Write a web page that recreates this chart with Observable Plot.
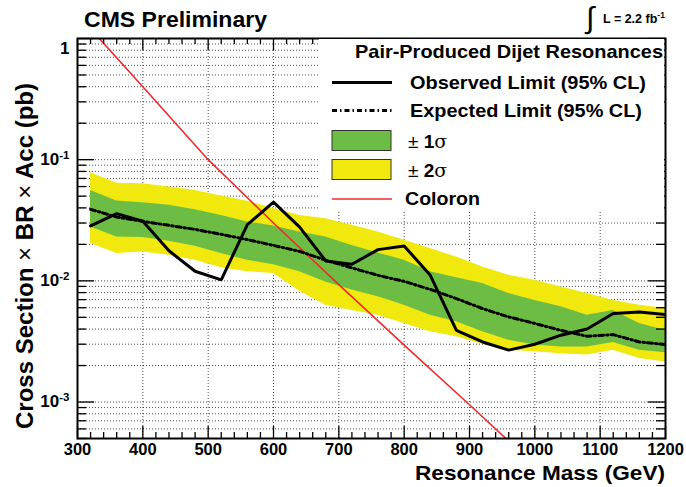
<!DOCTYPE html>
<html><head><meta charset="utf-8">
<script src="https://cdn.jsdelivr.net/npm/d3@7"></script>
<script src="https://cdn.jsdelivr.net/npm/@observablehq/plot@0.6"></script>
<style>
body{margin:0;background:#fff;}
#chart{width:686px;height:487px;position:relative;}
svg text{font-family:"Liberation Sans",Arial,Helvetica,sans-serif;}
</style></head><body><div id="chart"></div>
<script>
// ---- data ----
const mass = [320,360,400,440,480,520,560,600,640,680,720,760,800,840,880,920,960,1000,1040,1080,1120,1160,1200];
const observed = [0.0284,0.0359,0.031,0.0177,0.012,0.0102,0.0291,0.0447,0.0278,0.0146,0.0137,0.0181,0.0194,0.0111,0.0039,0.00313,0.00268,0.0030,0.00356,0.0040,0.00537,0.00554,0.00527];
const expected = [0.0389,0.0336,0.031,0.0287,0.0266,0.0242,0.0219,0.0196,0.0175,0.0148,0.0128,0.0111,0.0099,0.0085,0.00714,0.0059,0.00504,0.00445,0.0039,0.00349,0.0036,0.00313,0.00298];
const oneSigmaHigh = [0.0558,0.0456,0.0442,0.042,0.0387,0.0347,0.0306,0.0283,0.0253,0.023,0.0196,0.017,0.0148,0.0119,0.0106,0.0095,0.00785,0.0069,0.0061,0.0052,0.0057,0.00445,0.0039];
const oneSigmaLow = [0.0278,0.023,0.0228,0.0212,0.0193,0.0168,0.0148,0.0136,0.0119,0.0098,0.0084,0.0074,0.0063,0.0052,0.0046,0.0038,0.00324,0.00295,0.00285,0.00285,0.0031,0.00268,0.00255];
const twoSigmaHigh = [0.078,0.064,0.0633,0.0594,0.0558,0.0501,0.0453,0.0395,0.0347,0.0326,0.0287,0.0253,0.0216,0.0185,0.0157,0.013,0.0111,0.0101,0.0089,0.00785,0.0069,0.0063,0.0059];
const twoSigmaLow = [0.0203,0.0168,0.0173,0.0163,0.0148,0.0128,0.0119,0.0115,0.0082,0.0063,0.0057,0.0052,0.00445,0.0038,0.00345,0.0030,0.00268,0.0026,0.0025,0.00244,0.00268,0.00229,0.00214];
const coloronMass = [300,400,500,600,700,800,900,1000];
const coloronXsec = [1.58,0.40,0.10,0.030,0.0093,0.00295,0.00095,0.0003];

const xTickValues = [300,400,500,600,700,800,900,1000,1100,1200];
const yTickValues = [1,0.1,0.01,0.001];
const yTickLabels = ["1","10^-1","10^-2","10^-3"];

const legendLabels = ["Observed Limit (95% CL)","Expected Limit (95% CL)","\u00b1 1","\u00b1 2","Coloron"];

// ---- layout ----
const W=686,H=487,mL=77,mR=21,mT=38,mB=49;
const fw=W-mL-mR, fh=H-mT-mB;
const YELLOW="#f1e80e", GREEN="#6dbd45", RED="#ee2b2b";
const DASHDOT="5,3,1.5,3";

const rows = mass.map((m,i)=>({m,obs:observed[i],exp:expected[i],g1:oneSigmaLow[i],g2:oneSigmaHigh[i],y1:twoSigmaLow[i],y2:twoSigmaHigh[i]}));
const coloronRows = coloronMass.map((m,i)=>({m,v:coloronXsec[i]}));

const yMinor=[];
for(let e=-4;e<=0;e++)for(let k=2;k<=9;k++){const v=+(k*Math.pow(10,e)).toPrecision(3);if(v>=5e-4&&v<1)yMinor.push(v);}
const yAll = yTickValues.concat(yMinor);
const xMinor=[];
for(let v=300;v<=1200;v+=20) if(v%100!==0) xMinor.push(v);
const xInner = xTickValues.slice(1,-1);

const grid = {stroke:"#000",strokeDasharray:"1,2",strokeWidth:1,strokeOpacity:0.7};

const chart = Plot.plot({
  width:W,height:H,marginLeft:mL,marginRight:mR,marginTop:mT,marginBottom:mB,
  style:{fontFamily:"Liberation Sans, Arial, sans-serif",fontSize:"17px",background:"#fff"},
  x:{domain:[300,1200]},
  y:{type:"log",domain:[5e-4,1]},
  marks:[
    Plot.ruleY(yAll,{...grid}),
    Plot.ruleX(xInner,{...grid}),
    Plot.areaY(rows,{x:"m",y1:"y1",y2:"y2",fill:YELLOW,clip:true}),
    Plot.areaY(rows,{x:"m",y1:"g1",y2:"g2",fill:GREEN,clip:true}),
    Plot.line(coloronRows,{x:"m",y:"v",stroke:RED,strokeWidth:1.6,clip:true}),
    Plot.line(rows,{x:"m",y:"exp",stroke:"#000",strokeWidth:3,strokeDasharray:DASHDOT,clip:true}),
    Plot.line(rows,{x:"m",y:"obs",stroke:"#000",strokeWidth:3,strokeLinejoin:"miter",clip:true}),
    // inner ticks
    Plot.ruleY(yTickValues,{insetRight:fw-17,stroke:"#000",strokeWidth:1.3}),
    Plot.ruleY(yMinor,{insetRight:fw-9,stroke:"#000",strokeWidth:1.3}),
    Plot.ruleY(yTickValues,{insetLeft:fw-17,stroke:"#000",strokeWidth:1.3}),
    Plot.ruleY(yMinor,{insetLeft:fw-9,stroke:"#000",strokeWidth:1.3}),
    Plot.ruleX(xTickValues,{insetTop:fh-12,stroke:"#000",strokeWidth:1.3}),
    Plot.ruleX(xMinor,{insetTop:fh-6,stroke:"#000",strokeWidth:1.3}),
    Plot.ruleX(xTickValues,{insetBottom:fh-12,stroke:"#000",strokeWidth:1.3}),
    Plot.ruleX(xMinor,{insetBottom:fh-6,stroke:"#000",strokeWidth:1.3}),
    Plot.frame({stroke:"#000",strokeWidth:2}),
    Plot.axisX(xTickValues,{tickSize:0,tickPadding:5,fontSize:16.5,fontWeight:"bold",label:null,tickFormat:d=>String(d)}),
    Plot.axisY(yTickValues,{tickSize:0,tickPadding:8,fontSize:17,fontWeight:"bold",label:null,tickFormat:(d)=>yTickLabels[yTickValues.indexOf(d)]})
  ]
});
document.getElementById("chart").appendChild(chart);
const svg = d3.select(chart);

// superscripts on y tick labels
svg.selectAll('g[aria-label="y-axis tick label"] text').each(function(){
  const t=d3.select(this); const s=t.text();
  if(s.includes("^")){const [b,e]=s.split("^");t.text(null);t.append("tspan").text(b);t.append("tspan").attr("font-size",11.5).attr("dy","-0.55em").text(e);}
  else { t.attr("dy","0.6em"); }
});

const F='"Liberation Sans",Arial,sans-serif';
function txt(x,y,s,size,opts={}){
  const t=svg.append("text").attr("x",x).attr("y",y).attr("font-size",size).attr("font-weight",opts.weight||"bold").attr("font-family",F).attr("fill","#000").attr("text-anchor",opts.anchor||"start");
  if(opts.len) t.attr("textLength",opts.len).attr("lengthAdjust","spacingAndGlyphs");
  if(s!==null) t.text(s);
  return t;
}

// legend
svg.append("rect").attr("x",319).attr("y",39).attr("width",345).attr("height",171).attr("fill","#fff");
txt(355,58,"Pair-Produced Dijet Resonances",18.5,{len:308});
svg.append("line").attr("x1",332).attr("x2",392).attr("y1",82.5).attr("y2",82.5).attr("stroke","#000").attr("stroke-width",3);
txt(410,88.5,legendLabels[0],19,{len:236});
svg.append("line").attr("x1",332).attr("x2",392).attr("y1",110.5).attr("y2",110.5).attr("stroke","#000").attr("stroke-width",3).attr("stroke-dasharray",DASHDOT);
txt(410,117,legendLabels[1],19,{len:232});
svg.append("rect").attr("x",332).attr("y",130.5).attr("width",59).attr("height",20).attr("fill",GREEN).attr("stroke","#333").attr("stroke-width",1);
let t1=txt(408,148,null,19); t1.append("tspan").attr("font-weight","normal").text("\u00b1 "); t1.append("tspan").text("1"); t1.append("tspan").attr("font-weight","normal").attr("font-family","DejaVu Serif, serif").text("\u03c3");
svg.append("rect").attr("x",332).attr("y",159.5).attr("width",59).attr("height",20).attr("fill",YELLOW).attr("stroke","#333").attr("stroke-width",1);
let t2=txt(408,177,null,19); t2.append("tspan").attr("font-weight","normal").text("\u00b1 "); t2.append("tspan").text("2"); t2.append("tspan").attr("font-weight","normal").attr("font-family","DejaVu Serif, serif").text("\u03c3");
svg.append("line").attr("x1",332).attr("x2",392).attr("y1",199).attr("y2",199).attr("stroke",RED).attr("stroke-width",1.6);
txt(405,205,legendLabels[4],19,{len:75});

// titles
txt(84,27,"CMS Preliminary",22.5,{len:183});
svg.append("text").attr("x",590).attr("y",28).attr("font-size",30).attr("font-family","DejaVu Sans, sans-serif").attr("fill","#000").text("\u222b");
let lum=txt(603,23,null,12.5); lum.append("tspan").text("L = 2.2 fb"); lum.append("tspan").attr("font-size",8.5).attr("dy","-0.6em").text("-1");
txt(665,480,"Resonance Mass (GeV)",20.5,{anchor:"end",len:250});
const yt=svg.append("text").attr("transform","translate(33,256) rotate(-90)").attr("text-anchor","middle").attr("font-size",23).attr("font-weight","bold").attr("font-family",F).attr("textLength",346).attr("lengthAdjust","spacingAndGlyphs");
yt.append("tspan").text("Cross Section ");
yt.append("tspan").attr("font-weight","normal").text("\u00d7");
yt.append("tspan").text(" BR ");
yt.append("tspan").attr("font-weight","normal").text("\u00d7");
yt.append("tspan").text(" Acc (pb)");
</script></body></html>
